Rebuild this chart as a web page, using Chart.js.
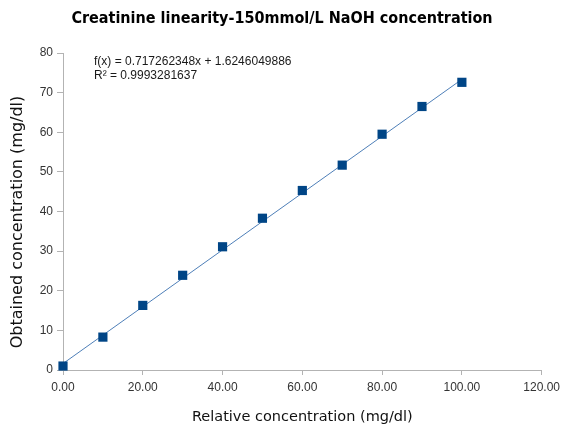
<!DOCTYPE html>
<html lang="en">
<head>
    <meta charset="UTF-8">
    <title>Creatinine linearity</title>
    <script src="https://cdn.jsdelivr.net/npm/chart.js@4/dist/chart.umd.min.js"></script>
    <style>
        body { margin: 0; background: #fff; }
    </style>
</head>
<body>
    <canvas id="wykres" width="565" height="430"></canvas>
    <script>
        // relative concentration (mg/dl) and measured values
        const relConc = [0, 10, 20, 30, 40, 50, 60, 70, 80, 90, 100];
        const obtained = [1.0, 8.3, 16.3, 23.9, 31.1, 38.3, 45.3, 51.7, 59.5, 66.5, 72.6];

        // linear trend line as reported on the chart
        const slope = 0.717262348;
        const intercept = 1.6246049886;
        const rSquared = 0.9993281637;

        const chartTitle = "Creatinine linearity-150mmol/L NaOH concentration";
        const xTitle = "Relative concentration (mg/dl)";
        const yTitle = "Obtained concentration (mg/dl)";

        const points = relConc.map((x, i) => ({ x: x, y: obtained[i] }));
        const xFirst = relConc[0];
        const xLast = relConc[relConc.length - 1];
        const trend = [
            { x: xFirst, y: slope * xFirst + intercept },
            { x: xLast, y: slope * xLast + intercept }
        ];

        // main title, y axis title and equation text
        const textPlugin = {
            id: "texts",
            afterDraw(chart) {
                const c = chart.ctx;
                c.save();
                c.textBaseline = "middle";

                c.textAlign = "center";
                c.fillStyle = "#000";
                c.font = "bold 16px 'DejaVu Sans Condensed', 'DejaVu Sans'";
                c.fillText(chartTitle, 282, 19);

                c.save();
                c.translate(18, 222);
                c.rotate(-Math.PI / 2);
                c.fillStyle = "#111";
                c.font = "16px 'DejaVu Sans'";
                c.fillText(yTitle, 0, 0);
                c.restore();

                c.textAlign = "left";
                c.font = "12px 'Liberation Sans'";
                c.fillStyle = "#1a1a1a";
                c.fillText("f(x) = " + slope + "x + " + intercept, 94, 62);
                c.fillText("R\u00B2 = " + rSquared, 94, 76);
                c.restore();
            }
        };

        const axisColor = "#b3b3b3";
        const tickFont = { family: "'Liberation Sans'", size: 12 };

        const ctx = document.getElementById("wykres").getContext("2d");
        const wykres = new Chart(ctx, {
            type: "scatter",
            data: {
                datasets: [
                    {
                        label: "trend",
                        data: trend,
                        showLine: true,
                        borderColor: "#4e7fb8",
                        borderWidth: 1,
                        pointRadius: 0,
                        order: 2
                    },
                    {
                        label: "points",
                        data: points,
                        pointStyle: "rect",
                        pointRadius: 6.5,
                        backgroundColor: "#004586",
                        borderColor: "#004586",
                        borderWidth: 0,
                        clip: false,
                        order: 1
                    }
                ]
            },
            options: {
                responsive: false,
                animation: false,
                layout: { padding: { left: 0, right: 22, top: 53, bottom: 0 } },
                plugins: {
                    legend: { display: false },
                    tooltip: { enabled: false },
                    title: { display: false }
                },
                scales: {
                    x: {
                        type: "linear",
                        min: 0,
                        max: 120,
                        ticks: {
                            stepSize: 20,
                            color: "#333",
                            font: tickFont,
                            padding: 5,
                            callback: v => v.toFixed(2)
                        },
                        grid: { drawOnChartArea: false, color: axisColor, tickLength: 5 },
                        border: { color: axisColor },
                        title: {
                            display: true,
                            text: xTitle,
                            color: "#111",
                            font: { family: "'DejaVu Sans'", size: 14.5 },
                            padding: { top: 14 }
                        },
                        afterFit: s => { s.height = 60; }
                    },
                    y: {
                        min: 0,
                        max: 80,
                        ticks: {
                            stepSize: 10,
                            color: "#333",
                            font: tickFont,
                            padding: 4
                        },
                        grid: { drawOnChartArea: false, color: axisColor, tickLength: 6 },
                        border: { color: axisColor },
                        afterFit: s => { s.width = 63; }
                    }
                }
            },
            plugins: [textPlugin]
        });
    </script>
</body>
</html>
